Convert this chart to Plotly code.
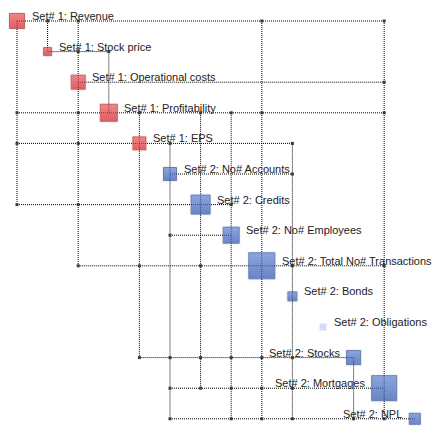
import plotly.graph_objects as go

# ---------------- data ----------------
node_names = [
    "Set# 1: Revenue", "Set# 1: Stock price", "Set# 1: Operational costs",
    "Set# 1: Profitability", "Set# 1: EPS", "Set# 2: No# Accounts",
    "Set# 2: Credits", "Set# 2: No# Employees", "Set# 2: Total No# Transactions",
    "Set# 2: Bonds", "Set# 2: Obligations", "Set# 2: Stocks",
    "Set# 2: Mortgages", "Set# 2: NPL",
]
node_set = [1, 1, 1, 1, 1, 2, 2, 2, 2, 2, 2, 2, 2, 2]
node_weight = [15, 8, 14, 17, 13, 13, 19, 16, 26, 9, 7, 14, 25, 11]
node_active = [1, 1, 1, 1, 1, 1, 1, 1, 1, 1, 0, 1, 1, 1]
label_side = ["right"] * 11 + ["left", "left", "left"]

link_source = [0, 0, 0, 0, 1, 1, 2, 3, 3, 3, 3, 3, 3, 3, 4, 4, 4, 4, 5, 6, 6, 6, 7,
               8, 8, 8, 8, 8, 11, 11, 11, 11, 11, 11, 12, 12, 12, 12, 12,
               13, 13, 13, 13, 13, 13]
link_target = [1, 2, 8, 12, 2, 3, 12, 0, 2, 4, 6, 7, 8, 12, 0, 2, 5, 9, 9, 0, 2, 7, 5,
               2, 4, 6, 9, 12, 4, 5, 6, 7, 8, 9, 5, 6, 7, 8, 9,
               5, 7, 8, 9, 11, 12]

# ---------------- build ----------------
pos = list(range(len(node_names)))

# merge each row's horizontal runs and each column's vertical runs,
# so the dotted pattern is drawn once per row / column
row_ext = {}
col_ext = {}
cx, cy = [], []
for s, t in zip(link_source, link_target):
    lo, hi = row_ext.get(s, (pos[s], pos[s]))
    row_ext[s] = (min(lo, pos[t]), max(hi, pos[t]))
    lo, hi = col_ext.get(t, (pos[t], pos[t]))
    col_ext[t] = (min(lo, pos[s]), max(hi, pos[s]))
    cx.append(pos[t])
    cy.append(pos[s])

lx, ly = [], []
for r, (a, b) in row_ext.items():
    lx += [a, b, None]
    ly += [pos[r], pos[r], None]
for c, (a, b) in col_ext.items():
    lx += [pos[c], pos[c], None]
    ly += [a, b, None]

fig = go.Figure()
fig.add_trace(go.Scatter(x=lx, y=ly, mode="lines",
                         line=dict(color="#000000", width=1, dash="1px,1px"),
                         hoverinfo="skip", showlegend=False))
fig.add_trace(go.Scatter(x=cx, y=cy, mode="markers",
                         marker=dict(symbol="square", size=3, color="#3a3a3a"),
                         hoverinfo="skip", showlegend=False))

# soft halo
fig.add_trace(go.Scatter(
    x=pos, y=pos, mode="markers",
    marker=dict(symbol="square", size=[w + 3 for w in node_weight],
                color=["rgba(0,0,0,0.08)" if a else "rgba(0,0,0,0)" for a in node_active],
                line=dict(width=0)),
    hoverinfo="skip", showlegend=False))

styles = {
    1: dict(top="#f05a5e", bottom="#d81f25", border="#b8292e"),
    2: dict(top="#6286d8", bottom="#3156b3", border="#2f4f9c"),
}
for st in (1, 2):
    idx = [i for i in pos if node_set[i] == st and node_active[i]]
    fig.add_trace(go.Scatter(
        x=[pos[i] for i in idx], y=[pos[i] for i in idx], mode="markers",
        marker=dict(symbol="square", size=[node_weight[i] for i in idx],
                    color=styles[st]["top"],
                    gradient=dict(type="vertical", color=styles[st]["bottom"]),
                    line=dict(color=styles[st]["border"], width=1)),
        hoverinfo="skip", showlegend=False))

idx = [i for i in pos if not node_active[i]]
fig.add_trace(go.Scatter(
    x=[pos[i] for i in idx], y=[pos[i] for i in idx], mode="markers",
    marker=dict(symbol="square", size=[node_weight[i] for i in idx],
                color="#c6cdf1", line=dict(width=0)),
    hoverinfo="skip", showlegend=False))

for i in pos:
    right = label_side[i] == "right"
    off = node_weight[i] / 2 + 5
    fig.add_annotation(
        x=pos[i], y=pos[i], text=node_names[i], showarrow=False,
        xanchor="left" if right else "right", yanchor="middle",
        xshift=off if right else -off, yshift=5,
        font=dict(family="Liberation Sans, Arial, sans-serif", size=11, color="#222222"),
    )

step = 30.6
fig.update_layout(
    width=436, height=446,
    margin=dict(l=0, r=0, t=0, b=0),
    paper_bgcolor="white", plot_bgcolor="white",
    xaxis=dict(range=[-17 / step, (436 - 17) / step], visible=False, fixedrange=True),
    yaxis=dict(range=[(446 - 21) / step, -21 / step], visible=False, fixedrange=True),
)
fig.write_html(
    "out.html",
    config={"displayModeBar": False},
    post_script="document.body.style.margin='0';document.body.style.padding='0';"
                "document.body.style.overflow='hidden';",
)
